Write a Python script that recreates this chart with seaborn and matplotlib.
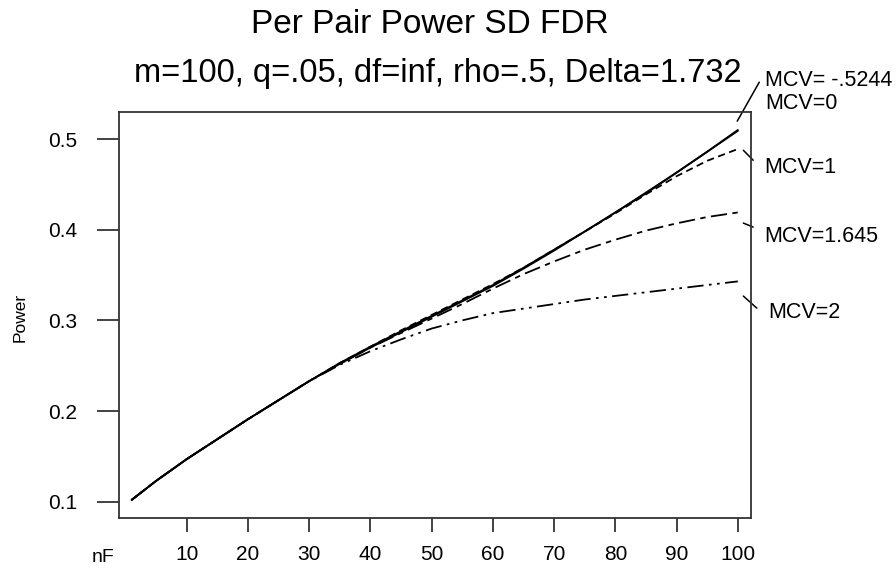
import numpy as np
import pandas as pd
import matplotlib
matplotlib.use("Agg")
import matplotlib.pyplot as plt
import seaborn as sns

# ---- data ----
nF = [1, 5, 10, 15, 20, 25, 30, 35, 40, 45, 50, 55, 60, 65, 70, 75, 80, 85, 90, 95, 100]

power_mcv_m5244 = [0.102, 0.123, 0.147, 0.169, 0.191, 0.212, 0.233, 0.252, 0.270, 0.287, 0.304,
                   0.321, 0.338, 0.357, 0.377, 0.398, 0.419, 0.440, 0.463, 0.486, 0.510]
power_mcv_0 = [0.102, 0.123, 0.147, 0.169, 0.191, 0.212, 0.233, 0.253, 0.271, 0.288, 0.305,
               0.322, 0.339, 0.358, 0.378, 0.398, 0.419, 0.441, 0.463, 0.486, 0.509]
power_mcv_1 = [0.102, 0.123, 0.147, 0.169, 0.191, 0.212, 0.233, 0.253, 0.271, 0.289, 0.306,
               0.323, 0.340, 0.358, 0.378, 0.398, 0.418, 0.439, 0.459, 0.476, 0.489]
power_mcv_1645 = [0.102, 0.123, 0.147, 0.169, 0.191, 0.212, 0.233, 0.252, 0.270, 0.286, 0.302,
                  0.318, 0.335, 0.351, 0.365, 0.378, 0.389, 0.399, 0.407, 0.414, 0.419]
power_mcv_2 = [0.102, 0.123, 0.147, 0.169, 0.191, 0.212, 0.233, 0.251, 0.266, 0.279, 0.291,
               0.300, 0.308, 0.313, 0.318, 0.323, 0.327, 0.331, 0.335, 0.339, 0.343]

series_names = ["MCV= -.5244", "MCV=0", "MCV=1", "MCV=1.645", "MCV=2"]
series_values = [power_mcv_m5244, power_mcv_0, power_mcv_1, power_mcv_1645, power_mcv_2]

x_ticks = [10, 20, 30, 40, 50, 60, 70, 80, 90, 100]
y_ticks = [0.1, 0.2, 0.3, 0.4, 0.5]

# long form table for seaborn
df = pd.concat(
    [pd.DataFrame({"nF": nF, "Power": vals, "MCV": name}) for name, vals in zip(series_names, series_values)],
    ignore_index=True,
)

sns.set_theme(style="white")
plt.rcParams["font.family"] = ["Liberation Sans", "DejaVu Sans"]
plt.rcParams["text.color"] = "black"

fig = plt.figure(figsize=(8.96, 5.69), dpi=100)
ax = fig.add_axes([119 / 896, 1 - 517.7 / 569, (750.7 - 119) / 896, (517.7 - 112) / 569])

line_dashes = {
    "MCV= -.5244": "",
    "MCV=0": "",
    "MCV=1": (4, 2.5),
    "MCV=1.645": (9, 3, 3, 3),
    "MCV=2": (9, 3, 1.5, 3, 1.5, 3),
}
sns.lineplot(data=df, x="nF", y="Power", style="MCV", dashes=line_dashes, color="black",
             linewidth=1.3, legend=False, ax=ax, sort=False)

ax.set_xlim(-1.06, 102.1)
ax.set_ylim(0.0824, 0.5298)
ax.set_xticks(x_ticks)
ax.set_yticks(y_ticks)
ax.set_xticklabels([str(t) for t in x_ticks])
ax.set_yticklabels([f"{t:.1f}" for t in y_ticks])
ax.set_xlabel("")
ax.set_ylabel("")
ax.tick_params(axis="x", direction="out", length=10, width=1.2, pad=10, labelsize=15,
               colors="#222222", labelcolor="black", bottom=True)
ax.tick_params(axis="y", direction="out", length=16, width=1.2, pad=14, labelsize=15,
               colors="#222222", labelcolor="black", left=True)
for sp in ax.spines.values():
    sp.set_color("#333333")
    sp.set_linewidth(1.3)

# leader lines from curve ends to the labels
leaders = [
    ((99.9, 103.5), (0.5197, 0.5627)),
    ((100.9, 102.5), (0.4876, 0.4766)),
    ((100.9, 102.5), (0.4073, 0.4029)),
    ((100.9, 103.1), (0.3268, 0.3135)),
]
for xs, ys in leaders:
    ax.plot(xs, ys, color="black", linewidth=1.1, clip_on=False)

label_pos = [(104.5, 0.565), (104.5, 0.5396), (104.3, 0.469), (104.3, 0.393), (104.9, 0.309)]
for name, (lx, ly) in zip(series_names, label_pos):
    ax.text(lx, ly, name, fontsize=15.5, va="center", ha="left", clip_on=False)

fig.text(430 / 896, 1 - 33 / 569, "Per Pair Power SD FDR", fontsize=24, ha="center", va="baseline")
fig.text(438 / 896, 1 - 82 / 569, "m=100, q=.05, df=inf, rho=.5, Delta=1.732", fontsize=23.5,
         ha="center", va="baseline")
fig.text(20 / 896, 1 - 317 / 569, "Power", fontsize=12.5, rotation=90, ha="center", va="center")
fig.text(103 / 896, 1 - 557 / 569, "nF", fontsize=14, ha="center", va="center")

fig.savefig("out.png", dpi=100)
